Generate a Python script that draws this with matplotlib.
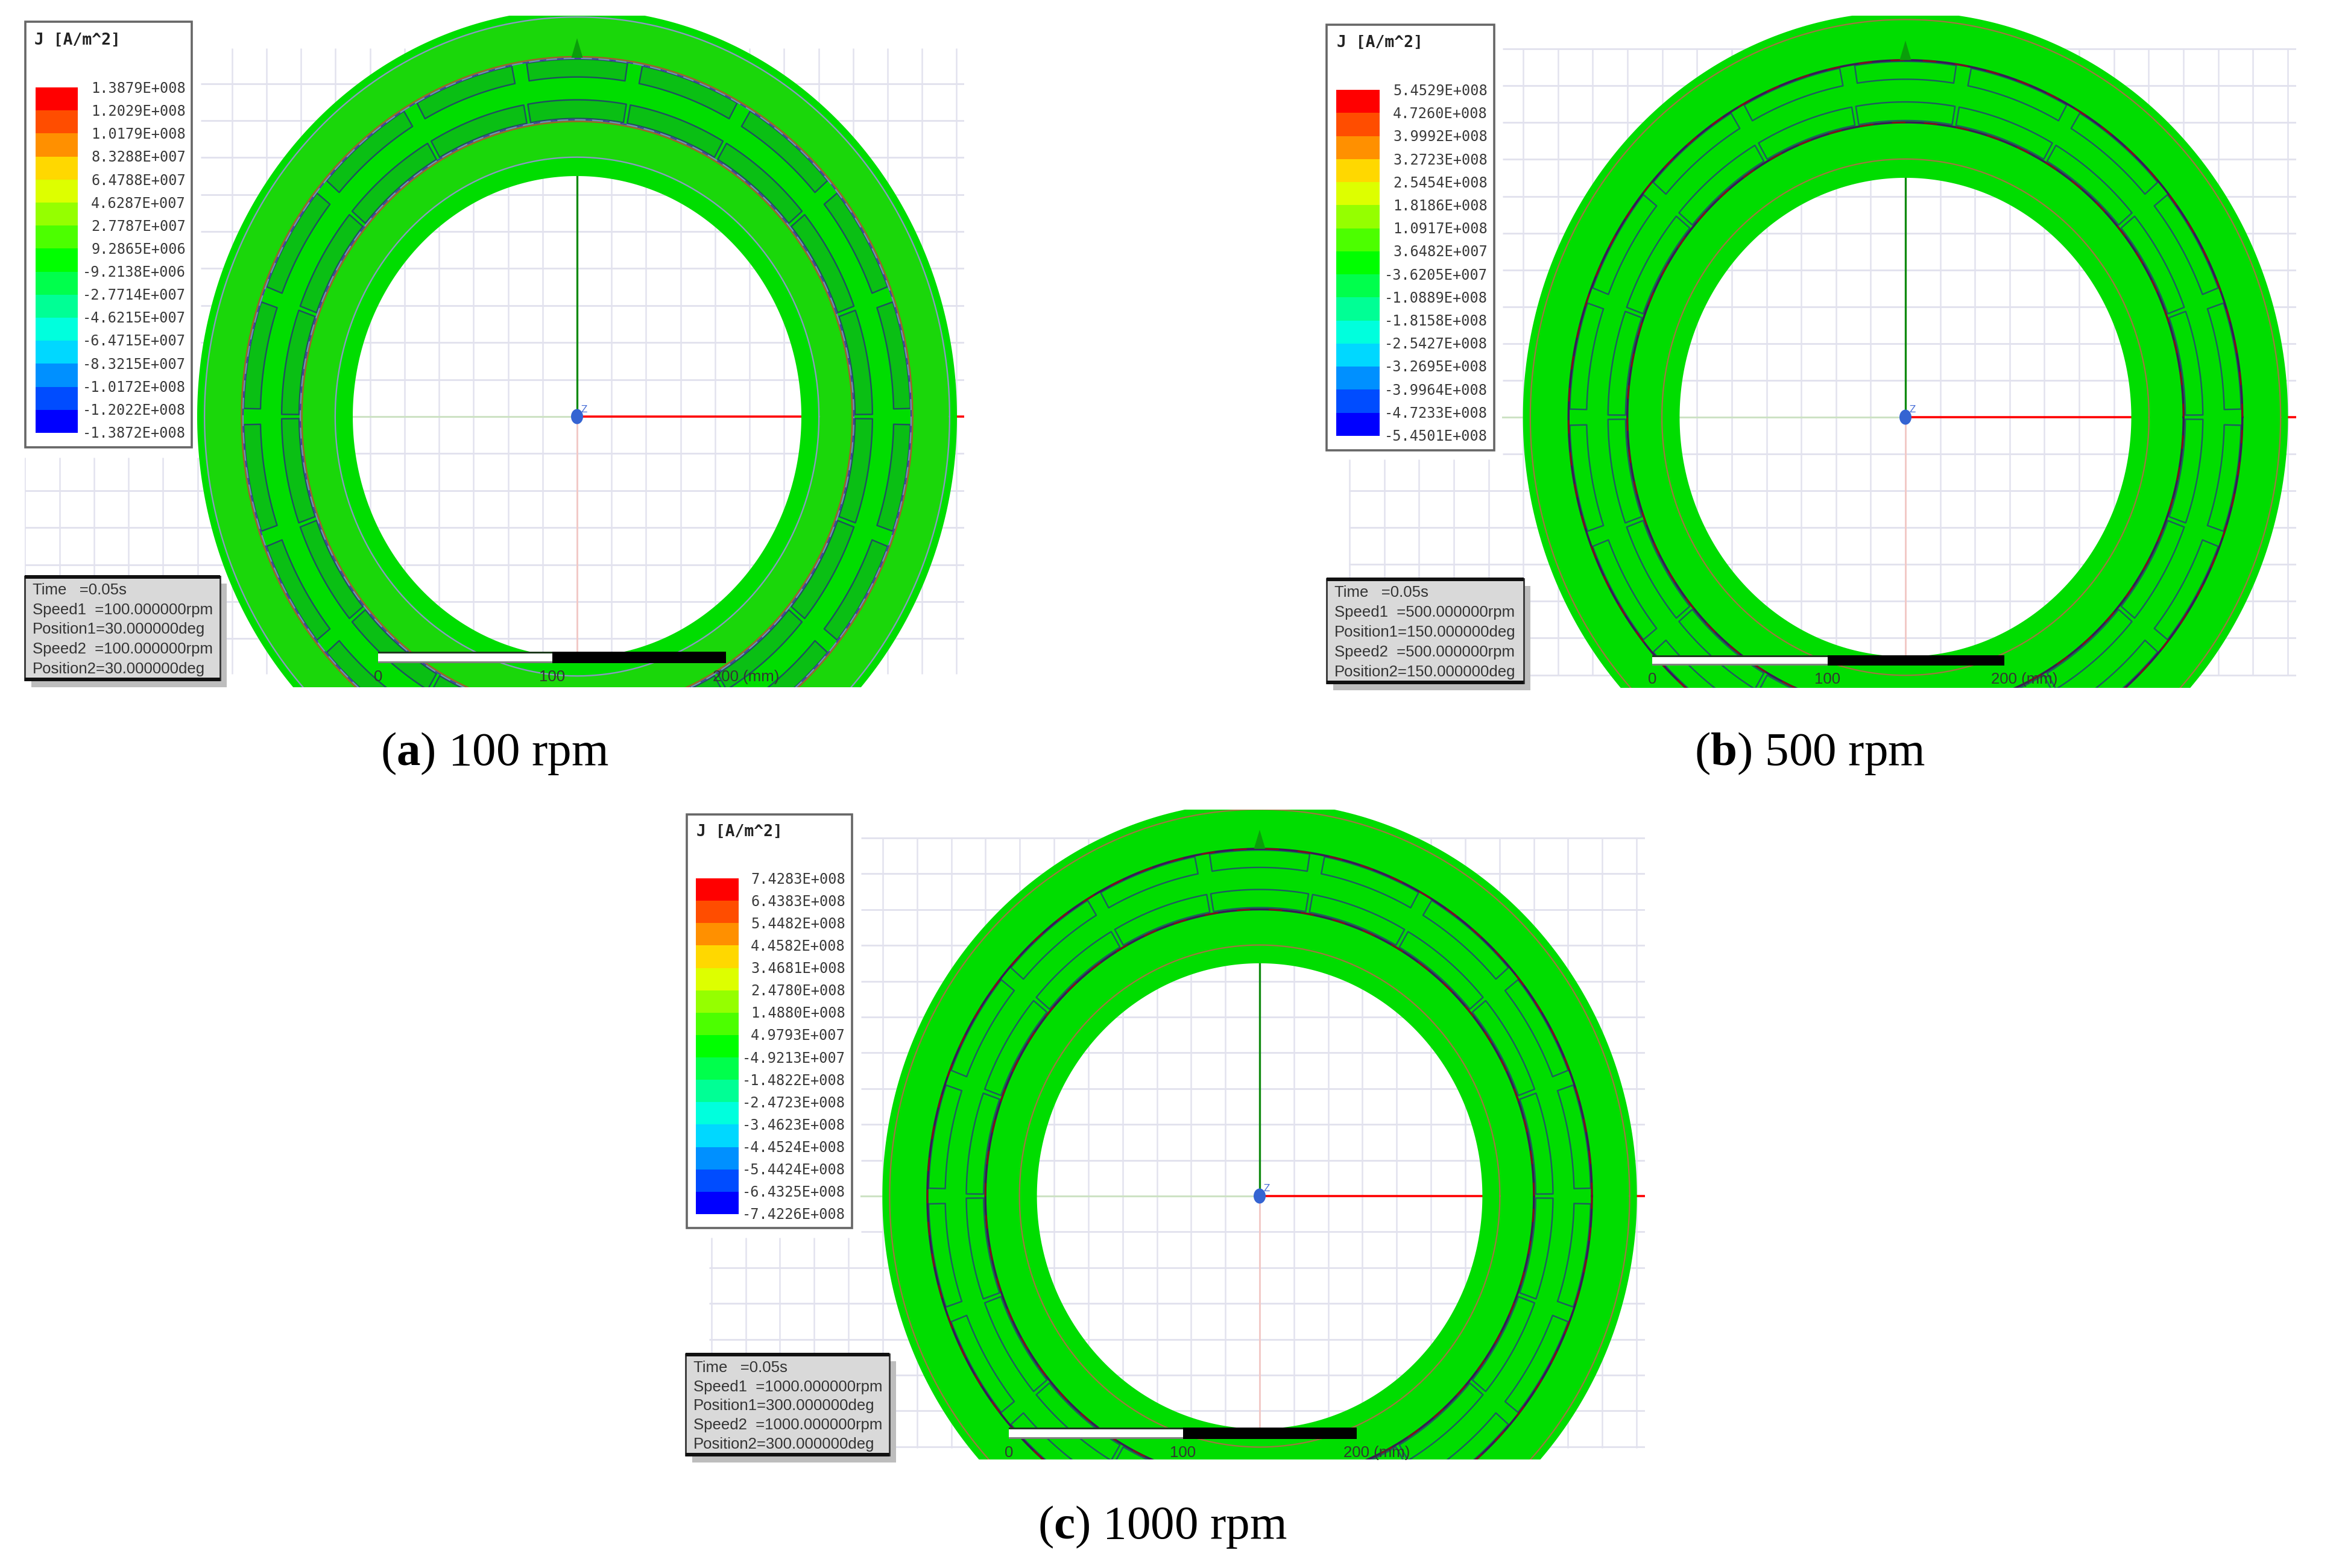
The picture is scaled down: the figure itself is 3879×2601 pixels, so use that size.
import numpy as np
import matplotlib
matplotlib.use("Agg")
import matplotlib.pyplot as plt
from matplotlib.patches import Rectangle, Ellipse

W, H = 3880, 2601
plt.rcParams['mathtext.fontset'] = 'custom'
plt.rcParams['mathtext.rm'] = 'Liberation Serif'
plt.rcParams['mathtext.bf'] = 'Liberation Serif:bold'

# ---- legend data
legend_a = ["1.3879E+008", "1.2029E+008", "1.0179E+008", "8.3288E+007", "6.4788E+007", "4.6287E+007",
            "2.7787E+007", "9.2865E+006", "-9.2138E+006", "-2.7714E+007", "-4.6215E+007", "-6.4715E+007",
            "-8.3215E+007", "-1.0172E+008", "-1.2022E+008", "-1.3872E+008"]
legend_b = ["5.4529E+008", "4.7260E+008", "3.9992E+008", "3.2723E+008", "2.5454E+008", "1.8186E+008",
            "1.0917E+008", "3.6482E+007", "-3.6205E+007", "-1.0889E+008", "-1.8158E+008", "-2.5427E+008",
            "-3.2695E+008", "-3.9964E+008", "-4.7233E+008", "-5.4501E+008"]
legend_c = ["7.4283E+008", "6.4383E+008", "5.4482E+008", "4.4582E+008", "3.4681E+008", "2.4780E+008",
            "1.4880E+008", "4.9793E+007", "-4.9213E+007", "-1.4822E+008", "-2.4723E+008", "-3.4623E+008",
            "-4.4524E+008", "-5.4424E+008", "-6.4325E+008", "-7.4226E+008"]
legend_colors = ["#FF0000", "#FF4D00", "#FF9000", "#FFD800", "#DDFF00", "#95FF00", "#4CFF00", "#00FF00",
                 "#00FF4C", "#00FF95", "#00FFDD", "#00D8FF", "#0090FF", "#004CFF", "#0000FF"]
legend_title = "J [A/m^2]"

speeds = ["100.000000", "500.000000", "1000.000000"]
positions = ["30.000000", "150.000000", "300.000000"]
captions = [("a", "100 rpm"), ("b", "500 rpm"), ("c", "1000 rpm")]
scale_labels = ["0", "100", "200 (mm)"]

# ---- machine geometry (mm)
r_hole, r_ring_in, r_inner_iron = 128.7, 138.8, 158.5
r_mag_in = (159.5, 169.5)
r_mag_out = (181.7, 191.3)
r_outer_iron, r_ring_out, r_outer = 192.0, 213.8, 218.0
pole_pitch = 20.0
half_out, half_in = 8.7, 9.6
grid_step = 19.8
scale_len = 200.0

# ---- panel layout (pixels of the figure)
cx = [957, 3160, 2089]
cy = [691, 692, 1984]
sx = [2.89, 2.91, 2.87]
sy = [3.10, 3.085, 3.00]
clip_top = [26, 26, 1343]
clip_bot = [1140, 1141, 2421]
grid_left = [41, 2237, 1176]
grid_up_left = [333, 2492, 1428]
grid_right = [1599, 3808, 2728]
grid_top = [80, 82, 1390]
grid_bot = [1118, 1120, 2402]
grid_split = [759, 762, 2053]
leg_box = [(42, 36, 318, 742), (2200, 41, 2478, 747), (1139, 1351, 1413, 2037)]
leg_bar = [(59, 145, 129, 718), (2216, 149, 2288, 723), (1154, 1457, 1225, 2014)]
leg_text_right = [308, 2467, 1402]
leg_title_xy = [(57, 67), (2217, 71), (1155, 1380)]
time_box = [(41, 956, 365, 1128), (2200, 960, 2527, 1133), (1137, 2246, 1475, 2414)]
bar_x = [(627, 916, 1204), (2740, 3031, 3324), (1673, 1962, 2250)]
bar_y = [(1083, 1098), (1089, 1102), (2370, 2385)]
cap_xy = [(820, 1250), (3002, 1250), (1928, 2533)]

GREEN = "#00DD00"
BODY = ["#1AD70A", GREEN, GREEN]
MAG = ["#0ABF14", GREEN, GREEN]
THIN = ["#8A9AC0", "#9A7A40", "#9A7A40"]

fig = plt.figure(figsize=(W / 100, H / 100), dpi=100, facecolor="white")
over = fig.add_axes([0, 0, 1, 1], zorder=5)
over.set_xlim(0, W); over.set_ylim(H, 0); over.axis("off")
over.patch.set_alpha(0)


def ring(ax, r0, r1, color, z):
    t = np.linspace(0, 2 * np.pi, 721)
    ax.fill(np.r_[r1 * np.cos(t), r0 * np.cos(t[::-1])],
            np.r_[r1 * np.sin(t), r0 * np.sin(t[::-1])], color=color, lw=0, zorder=z)


def circle(ax, r, **kw):
    t = np.linspace(0, 2 * np.pi, 721)
    ax.plot(r * np.cos(t), r * np.sin(t), **kw)


def magnets(ax, r0, r1, half, color, edge, lw):
    for c in np.arange(0, 360, pole_pitch):
        t = np.radians(np.linspace(c - half, c + half, 40))
        x = np.r_[r1 * np.sin(t), r0 * np.sin(t[::-1])]
        y = np.r_[r1 * np.cos(t), r0 * np.cos(t[::-1])]
        ax.fill(x, y, facecolor=color, edgecolor=edge, lw=lw, zorder=6, joinstyle="round")


def draw_panel(i, labels):
    xl, xr, yt, yb = grid_left[i], grid_right[i], clip_top[i], clip_bot[i]
    ax = fig.add_axes([xl / W, 1 - yb / H, (xr - xl) / W, (yb - yt) / H], zorder=1)
    ax.set_xlim((xl - cx[i]) / sx[i], (xr - cx[i]) / sx[i])
    ax.set_ylim((cy[i] - yb) / sy[i], (cy[i] - yt) / sy[i])
    ax.axis("off")

    # grid
    up_left = (grid_up_left[i] - cx[i]) / sx[i]
    left = (xl - cx[i]) / sx[i]
    right = (xr - cx[i]) / sx[i]
    top = (cy[i] - grid_top[i]) / sy[i]
    bot = (cy[i] - grid_bot[i]) / sy[i]
    split = (cy[i] - grid_split[i]) / sy[i]
    gcol = "#E2E2EE"
    for k in range(-12, 13):
        y = k * grid_step
        if bot - 0.5 <= y <= top + 0.5:
            ax.plot([up_left if y > split else left, right], [y, y], color=gcol, lw=2.1, zorder=1,
                    solid_capstyle="butt")
    for k in range(-30, 30):
        x = k * grid_step
        if left <= x <= right:
            ax.plot([x, x], [bot, split if x < up_left else top], color=gcol, lw=1.8, zorder=1,
                    solid_capstyle="butt")

    # coordinate axes
    ax.plot([up_left, 0], [0, 0], color="#CDE2C4", lw=2.2, zorder=2)
    ax.plot([0, 0], [0, bot], color="#F3C8C4", lw=2.0, zorder=2)
    ax.plot([0, right], [0, 0], color="#FF0000", lw=2.6, zorder=2, solid_capstyle="butt")
    ax.plot([0, 0], [0, r_hole], color="#108A10", lw=2.4, zorder=2)

    # rings
    ring(ax, r_hole, r_outer, GREEN, 3)
    ring(ax, r_ring_in, r_ring_out, BODY[i], 4)
    ring(ax, r_inner_iron, r_outer_iron, GREEN, 5)
    edge = ["#1F4F60", "#1F5A60", "#1F5A60"][i]
    magnets(ax, *r_mag_in, half_in, MAG[i], edge, 1.7)
    magnets(ax, *r_mag_out, half_out, MAG[i], edge, 1.7)

    circle(ax, r_ring_in, color=THIN[i], lw=1.7, zorder=7)
    circle(ax, r_ring_out, color=THIN[i], lw=1.7, zorder=7)
    if i == 0:
        for r in (r_inner_iron, r_outer_iron):
            circle(ax, r + (0.6 if r > 170 else -0.6), color="#B05030", lw=1.5, zorder=7)
            circle(ax, r + (-0.3 if r > 170 else 0.3), color="#7A80C0", lw=1.7, zorder=7)
            circle(ax, r + (-0.3 if r > 170 else 0.3), color="#4030A0", lw=1.3, zorder=8,
                   ls=(0, (6, 10)))
    else:
        for r in (r_inner_iron, r_outer_iron):
            circle(ax, r, color="#3A1A55", lw=2.5, zorder=7)
            circle(ax, r, color="#8A1010", lw=1.6, zorder=8, ls=(0, (10, 14)))

    # top marker
    ax.fill([-3.3, 3.3, 0], [r_outer_iron, r_outer_iron, r_outer_iron + 10.5],
            color="#0A9E0A", lw=0, zorder=9)

    # origin marker
    over.add_patch(Ellipse((cx[i], cy[i]), 20, 25, facecolor="#3564D2", edgecolor="none", zorder=3))
    over.text(cx[i] + 12, cy[i] - 12, "Z", color="#4A70D8", fontsize=11, ha="center", va="center", zorder=3)

    # legend
    x0, y0, x1, y1 = leg_box[i]
    over.add_patch(Rectangle((x0, y0), x1 - x0, y1 - y0, facecolor="white",
                             edgecolor="#666666", lw=2.6, zorder=4))
    bx0, by0, bx1, by1 = leg_bar[i]
    edges = np.linspace(by0, by1, len(legend_colors) + 1)
    for c, a, b in zip(legend_colors, edges[:-1], edges[1:]):
        over.add_patch(Rectangle((bx0, a), bx1 - bx0, b - a, facecolor=c, edgecolor="none", zorder=5))
    ly = np.linspace(by0 + 2, by1 + 1, len(labels))
    for s, y in zip(labels, ly):
        over.text(leg_text_right[i], y, s, family="DejaVu Sans Mono", fontsize=17.0, color="#3A3A3A",
                  ha="right", va="center", zorder=5)
    over.text(*leg_title_xy[i], legend_title, family="DejaVu Sans Mono", fontsize=19.0,
              fontweight="bold", color="#222222", ha="left", va="center", zorder=5)

    # info box
    x0, y0, x1, y1 = time_box[i]
    over.add_patch(Rectangle((x0 + 11, y0 + 12), x1 - x0, y1 - y0, facecolor="#BDBDBD",
                             edgecolor="none", zorder=4))
    over.add_patch(Rectangle((x0, y0), x1 - x0, y1 - y0, facecolor="#D9D9D9",
                             edgecolor="#333333", lw=2.0, zorder=4.1))
    over.add_patch(Rectangle((x0, y0 - 2), x1 - x0, 6, facecolor="#111111", edgecolor="none", zorder=4.2))
    over.add_patch(Rectangle((x0, y1 - 4), x1 - x0, 6, facecolor="#111111", edgecolor="none", zorder=4.2))
    rows = ["Time   =0.05s", f"Speed1  ={speeds[i]}rpm", f"Position1={positions[i]}deg",
            f"Speed2  ={speeds[i]}rpm", f"Position2={positions[i]}deg"]
    tys = np.linspace(y0 + 23, y1 - 18, len(rows))
    for s, y in zip(rows, tys):
        over.text(x0 + 13, y, s, family="Liberation Sans", fontsize=18.5, color="#333333",
                  ha="left", va="center", zorder=5)

    # scale bar
    a, m, b = bar_x[i]
    t0, t1 = bar_y[i]
    over.add_patch(Rectangle((a, t0), m - a, t1 - t0, facecolor="white", edgecolor="none", zorder=3))
    over.add_patch(Rectangle((a, t0 - 2), m - a, 3, facecolor="#1E3A1E", edgecolor="none", zorder=3))
    over.add_patch(Rectangle((a, t1 - 1), m - a, 3, facecolor="#808080", edgecolor="none", zorder=3))
    over.add_patch(Rectangle((m, t0 - 2), b - m, t1 - t0 + 4, facecolor="black", edgecolor="none", zorder=3))
    ty = t1 + 25
    over.text(a, ty, scale_labels[0], family="Liberation Sans", fontsize=18.5, color="#333333",
              ha="center", va="center", zorder=3)
    over.text(m, ty, scale_labels[1], family="Liberation Sans", fontsize=18.5, color="#333333",
              ha="center", va="center", zorder=3)
    over.text(b - 22, ty, scale_labels[2], family="Liberation Sans", fontsize=18.5, color="#333333",
              ha="left", va="center", zorder=3)

    # caption
    tag, txt = captions[i]
    over.text(*cap_xy[i], "(" + r"$\mathbf{" + tag + "}$" + ") " + txt, family="Liberation Serif",
              fontsize=57, color="black", ha="center", va="center", zorder=5)


for i, labels in enumerate([legend_a, legend_b, legend_c]):
    draw_panel(i, labels)

fig.savefig("out.png", dpi=100, facecolor="white")
